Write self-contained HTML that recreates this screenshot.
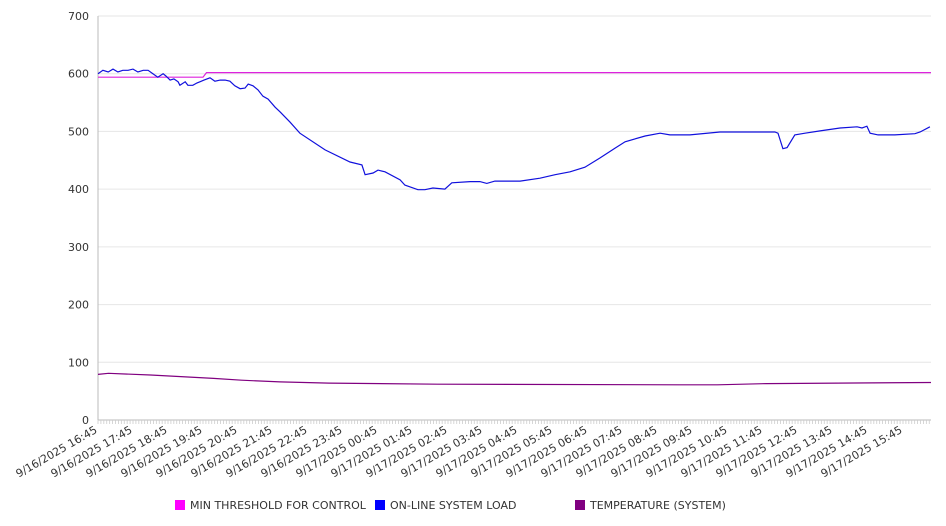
<!DOCTYPE html>
<html><head><meta charset="utf-8"><style>
html,body{margin:0;padding:0;background:#fff;width:946px;height:526px;overflow:hidden;font-family:"DejaVu Sans","Liberation Sans",sans-serif}
</style></head><body>
<svg id="chart" width="946" height="526" xmlns="http://www.w3.org/2000/svg"></svg>
<script>
const yTicks=[0,100,200,300,400,500,600,700];
const xLabels=["9/16/2025 16:45","9/16/2025 17:45","9/16/2025 18:45","9/16/2025 19:45","9/16/2025 20:45","9/16/2025 21:45","9/16/2025 22:45","9/16/2025 23:45","9/17/2025 00:45","9/17/2025 01:45","9/17/2025 02:45","9/17/2025 03:45","9/17/2025 04:45","9/17/2025 05:45","9/17/2025 06:45","9/17/2025 07:45","9/17/2025 08:45","9/17/2025 09:45","9/17/2025 10:45","9/17/2025 11:45","9/17/2025 12:45","9/17/2025 13:45","9/17/2025 14:45","9/17/2025 15:45"];
const loadTimes=[0,.14,.29,.43,.57,.71,.86,1,1.14,1.29,1.43,1.57,1.71,1.86,1.94,2.06,2.17,2.29,2.34,2.49,2.57,2.71,2.83,2.91,3.03,3.2,3.34,3.49,3.63,3.77,3.91,4.06,4.2,4.29,4.43,4.57,4.71,4.86,5.06,5.2,5.49,5.77,6.49,7.2,7.54,7.63,7.86,8,8.2,8.63,8.77,8.91,9.14,9.34,9.57,9.91,10.11,10.63,10.91,11.11,11.34,12.06,12.63,13.06,13.49,13.91,14.34,14.77,15.06,15.63,16.06,16.34,16.91,17.77,18.34,18.91,19.34,19.43,19.57,19.69,19.91,20.2,20.63,21.2,21.69,21.83,21.97,22.06,22.29,22.77,23.34,23.49,23.77];
const loadValues=[600,606,603,608,603,606,606,608,603,606,606,600,594,600,596,589,591,586,580,586,580,580,584,586,589,593,587,589,589,587,579,574,575,582,579,572,561,556,542,534,516,497,468,447,442,425,428,433,430,416,407,404,399,399,402,400,411,413,413,410,414,414,419,425,430,438,454,471,482,492,497,494,494,499,499,499,499,497,470,472,494,497,501,506,508,506,509,497,494,494,496,499,508];
const threshTimes=[0,3.0,3.1,23.8];
const threshValues=[594,594,602,602];
const tempTimes=[0,0.3,1.5,3.3,4.1,5.2,6.6,9.7,16.6,17.7,19.1,23.8];
const tempValues=[79,81,78,72,69,66,64,62,61,61,63,65];
const DOMAIN_MAX=23.8;
const svg=document.getElementById('chart');
const NS='http://www.w3.org/2000/svg';
const X0=98,X1=931,Y0=420,Y1=16;
function xs(t){return X0+t*(X1-X0)/DOMAIN_MAX;}
function ys(v){return Y0-v*(Y0-Y1)/700;}
function mk(tag,attrs){const e=document.createElementNS(NS,tag);for(const k in attrs)e.setAttribute(k,attrs[k]);svg.appendChild(e);return e;}
// grid + y labels
yTicks.forEach(v=>{
  const g=mk('line',{x1:X0,x2:X1,y1:ys(v),y2:ys(v),stroke:v===0?'#bbb':'#e6e6e6','stroke-width':1});
  
  
  const t=mk('text',{x:X0-9,y:ys(v)+4,'text-anchor':'end','font-size':11,fill:'#333'});
  t.textContent=v;
  
  
});
const ax=mk('line',{x1:X0,x2:X0,y1:Y1,y2:Y0,stroke:'#bbb','stroke-width':1});


// minor ticks every 5 minutes
for(let m=0;m<=DOMAIN_MAX*60;m+=5){
  const tk=mk('line',{x1:xs(m/60),x2:xs(m/60),y1:Y0,y2:Y0+4,stroke:'#ccc','stroke-width':0.8});
  
  
}
xLabels.forEach((l,i)=>{
  const x=xs(i),y=Y0+12;
  const t=mk('text',{x:x,y:y,'text-anchor':'end','font-size':11,fill:'#333',transform:`rotate(-30 ${x} ${y})`});
  t.textContent=l;
  
  
});
function line(ts,vs,color,name){
  const d=ts.map((t,i)=>(i?'L':'M')+xs(t).toFixed(1)+' '+ys(vs[i]).toFixed(1)).join(' ');
  const p=mk('path',{d:d,fill:'none',stroke:color,'stroke-width':1.2});
  
  
}
line(tempTimes,tempValues,'#800080','temperature-line');
line(threshTimes,threshValues,'#dd22dd','threshold-line');
line(loadTimes,loadValues,'#1010dd','system-load-line');
// legend
const leg=[['MIN THRESHOLD FOR CONTROL','#ff00ff',175],['ON-LINE SYSTEM LOAD','#0000ff',375],['TEMPERATURE (SYSTEM)','#800080',575]];
leg.forEach(([txt,c,x])=>{
  const r=mk('rect',{x:x,y:500,width:10,height:10,fill:c});
  
  
  const t=mk('text',{x:x+15,y:509,'font-size':11,fill:'#333'});
  t.textContent=txt;
  
  
});
</script>
</body></html>
